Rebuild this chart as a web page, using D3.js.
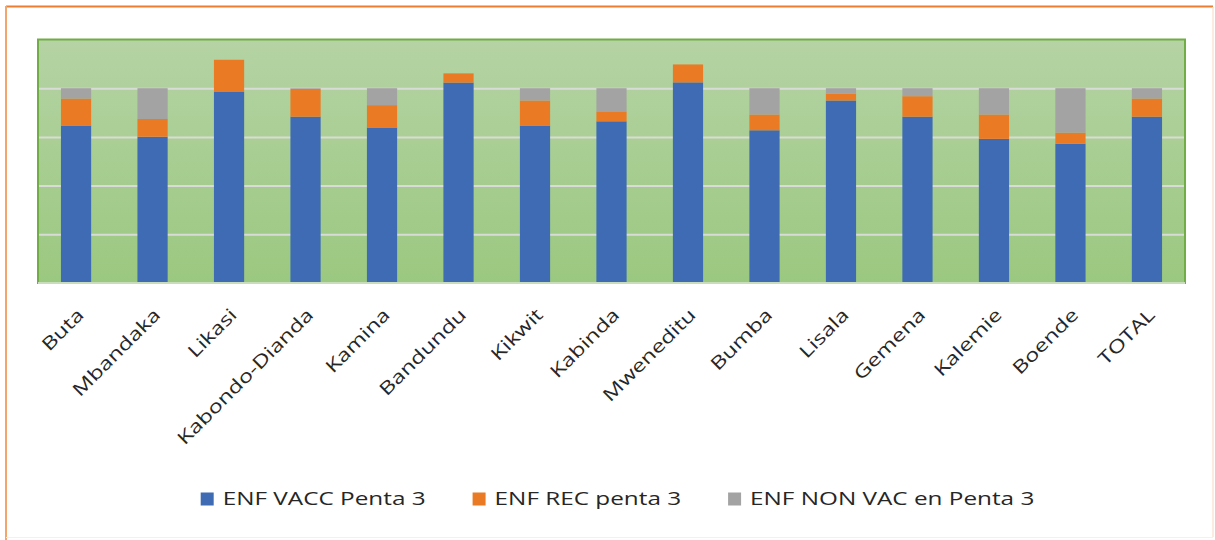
<!DOCTYPE html>
<html>
<head>
<meta charset="utf-8">
<script src="https://cdn.jsdelivr.net/npm/d3@7"></script>
<style>
    body { margin: 0; background: #fff; }
    text { font-family: "Open Sans", sans-serif; fill: #262626; }
</style>
</head>
<body>
<div id="chart"></div>
<script>
// zones de sante
var zones = ["Buta", "Mbandaka", "Likasi", "Kabondo-Dianda", "Kamina", "Bandundu", "Kikwit",
    "Kabinda", "Mweneditu", "Bumba", "Lisala", "Gemena", "Kalemie", "Boende", "TOTAL"];

var enfVacc = [80.8, 75.1, 98.3, 85.4, 79.8, 102.9, 80.8, 83.0, 103.0, 78.4, 93.7, 85.4, 74.0, 71.5, 85.4];
var enfRec = [13.9, 9.1, 16.3, 14.3, 11.5, 4.7, 12.9, 4.8, 9.2, 8.1, 3.4, 10.5, 12.5, 5.7, 9.3];
var enfNonVac = [5.3, 15.8, 0, 0.3, 8.7, 0, 6.3, 12.2, 0, 13.5, 2.9, 4.1, 13.5, 22.8, 5.3];

var seriesNames = ["ENF VACC Penta 3", "ENF REC penta 3", "ENF NON VAC en Penta 3"];
var seriesColors = ["#3e6bb4", "#ea7a24", "#a3a3a3"];
var yTicks = [0, 25, 50, 75, 100, 125];

(function() {
    var width = 1215,
        height = 540;

    var svg = d3.select("#chart")
        .append("svg")
        .attr("width", width)
        .attr("height", height)

    // cadre exterieur
    svg.append("line").attr("x1", 6).attr("y1", 6.5).attr("x2", 1213).attr("y2", 6.5)
        .attr("stroke", "#ed7d31").attr("stroke-width", 2)
    svg.append("line").attr("x1", 6).attr("y1", 6).attr("x2", 6).attr("y2", 540)
        .attr("stroke", "#f4a56c").attr("stroke-width", 2)
    svg.append("line").attr("x1", 1213).attr("y1", 7).attr("x2", 1213).attr("y2", 537)
        .attr("stroke", "#fbe5d6").attr("stroke-width", 1.5)
    svg.append("line").attr("x1", 6).attr("y1", 537.5).attr("x2", 1213).attr("y2", 537.5)
        .attr("stroke", "#fbeee5").attr("stroke-width", 1)

    var plot = { left: 38, right: 1185, top: 39.5, bottom: 283 };

    var x = d3.scaleBand()
        .domain(zones)
        .range([plot.left, plot.right])
        .paddingInner(0.605)
        .paddingOuter(0.3)

    var y = d3.scaleLinear()
        .domain([0, 125])
        .range([plot.bottom, plot.top])

    var grad = svg.append("defs").append("linearGradient")
        .attr("id", "bg")
        .attr("x1", 0).attr("y1", 0).attr("x2", 0).attr("y2", 1)
    grad.append("stop").attr("offset", "0%").attr("stop-color", "#b5d3a4")
    grad.append("stop").attr("offset", "100%").attr("stop-color", "#9bc880")

    svg.append("rect")
        .attr("x", plot.left)
        .attr("y", plot.top)
        .attr("width", plot.right - plot.left)
        .attr("height", plot.bottom - plot.top)
        .attr("fill", "url(#bg)")

    // grille
    var yAxis = d3.axisLeft(y)
        .tickValues(yTicks.slice(1, 5))
        .tickSize(-(plot.right - plot.left))
        .tickFormat("")
    var gy = svg.append("g")
        .attr("transform", "translate(" + plot.left + ",0)")
        .call(yAxis)
    gy.select(".domain").remove()
    gy.selectAll(".tick line").attr("stroke", "#d9dcd6").attr("stroke-width", 2)

    // donnees empilees
    var rows = zones.map(function(z, i) {
        return { zone: z, vacc: enfVacc[i], rec: enfRec[i], non: enfNonVac[i] };
    })
    var stack = d3.stack().keys(["vacc", "rec", "non"])(rows)

    svg.append("g")
        .selectAll("g")
        .data(stack)
        .enter().append("g")
        .attr("fill", function(d, i) { return seriesColors[i]; })
        .selectAll("rect")
        .data(function(d) { return d; })
        .enter().append("rect")
        .attr("x", function(d) { return x(d.data.zone); })
        .attr("width", x.bandwidth())
        .attr("y", function(d) { return y(d[1]); })
        .attr("height", function(d) { return y(d[0]) - y(d[1]); })

    // bordure de la zone de trace
    svg.append("rect")
        .attr("x", plot.left)
        .attr("y", plot.top)
        .attr("width", plot.right - plot.left)
        .attr("height", plot.bottom - plot.top)
        .attr("fill", "none")
        .attr("stroke", "#70ad47")
        .attr("stroke-width", 2)
    svg.append("line")
        .attr("x1", plot.left).attr("x2", plot.right)
        .attr("y1", plot.bottom).attr("y2", plot.bottom)
        .attr("stroke", "#c9dcbc").attr("stroke-width", 2)

    // etiquettes de l'axe x
    var xAxis = d3.axisBottom(x).tickSize(0)
    var gx = svg.append("g")
        .attr("transform", "translate(0," + plot.bottom + ")")
        .call(xAxis)
    gx.select(".domain").remove()
    gx.selectAll(".tick text")
        .attr("font-family", "Open Sans")
        .attr("font-size", 18)
        .attr("fill", "#262626")
        .attr("text-anchor", "end")
        .attr("x", 0)
        .attr("y", 0)
        .attr("dy", 0)
        .attr("transform", "translate(9,33) rotate(-45) scale(1.3,1)")

    // legende
    var legend = svg.append("g")
    var lx = 0
    seriesNames.forEach(function(name, i) {
        var item = legend.append("g").attr("transform", "translate(" + lx + ",0)")
        item.append("rect")
            .attr("x", 0).attr("y", -6.5)
            .attr("width", 13).attr("height", 13)
            .attr("fill", seriesColors[i])
        var t = item.append("text")
            .attr("font-size", 18)
            .attr("dy", "0.35em")
            .attr("transform", "translate(22,0) scale(1.35,1)")
            .text(name)
        var w = t.node().getComputedTextLength() * 1.35
        lx += 22 + w + 47
    })
    var legendW = lx - 47
    legend.attr("transform", "translate(" + (617.5 - legendW / 2) + ",499)")
})();
</script>
</body>
</html>
